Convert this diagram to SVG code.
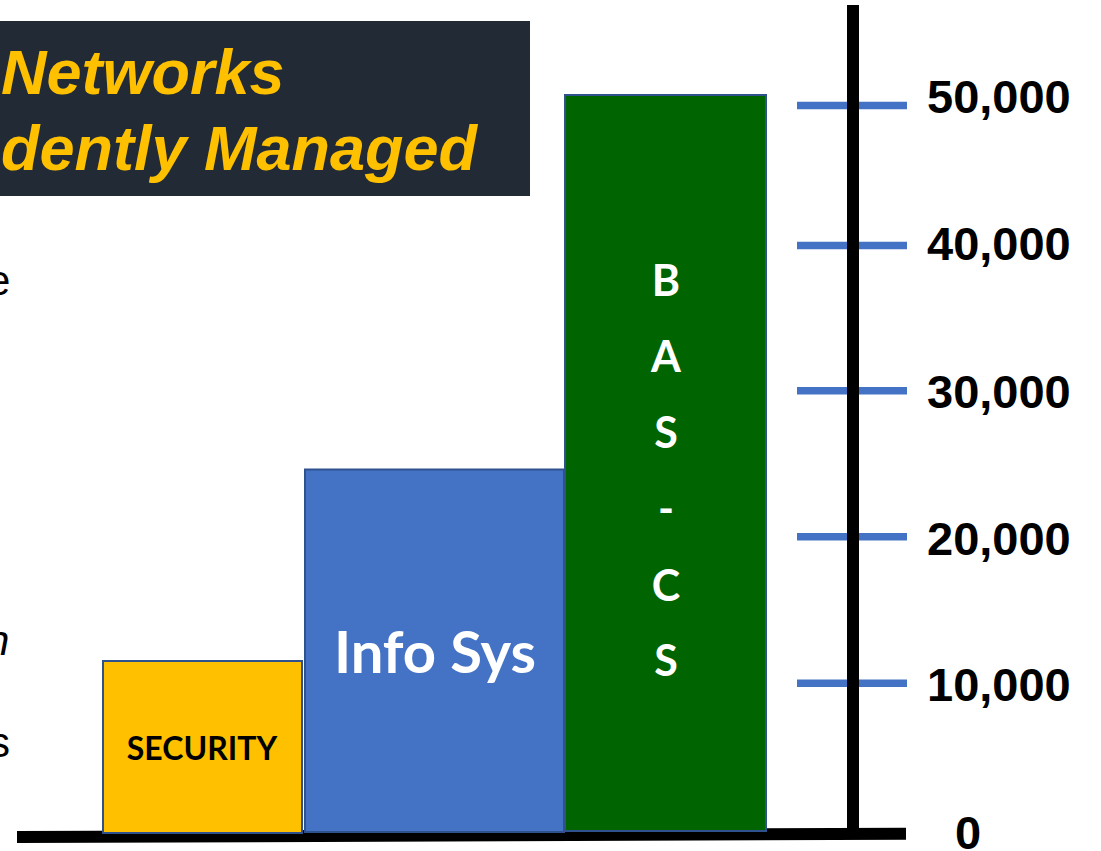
<svg xmlns="http://www.w3.org/2000/svg" width="1101" height="851" viewBox="0 0 1101 851">
  <style>
    .title { font-family: "Liberation Sans", Arial, sans-serif; font-weight: bold; font-style: italic; font-size: 63px; fill: #FFC000; }
    .side { font-family: "Liberation Sans", Arial, sans-serif; font-size: 42px; fill: #000000; }
    .bar { stroke: #2F528F; stroke-width: 2; }
    .barlabel { font-family: Lato, "Open Sans", sans-serif; font-weight: bold; text-anchor: middle; }
    .tick { stroke: #4472C4; stroke-width: 7.5; }
    .axis { stroke: #000000; stroke-width: 12; }
    .value { font-family: "Liberation Sans", Arial, sans-serif; font-weight: bold; font-size: 47px; fill: #000000; }
  </style>

  <rect width="1101" height="851" fill="#FFFFFF"/>

  <!-- heading banner -->
  <g id="heading">
    <rect x="0" y="21" width="530" height="175" fill="#222A35"/>
    <text class="title" x="1" y="94">Networks</text>
    <text class="title" x="1" y="170">dently Managed</text>
  </g>

  <!-- text fragments at the left edge -->
  <g id="side-text">
    <text class="side" x="-13" y="295">e</text>
    <text class="side" x="-14" y="655" font-style="italic">n</text>
    <text class="side" x="-11" y="757">s</text>
  </g>

  <!-- axes and scale -->
  <g id="connectors">
    <line class="axis" x1="17" y1="837" x2="906" y2="833.8"/>
    <line class="tick" x1="797" y1="105.5" x2="907" y2="105.5"/>
    <line class="tick" x1="797" y1="245.5" x2="907" y2="245.5"/>
    <line class="tick" x1="797" y1="390.7" x2="907" y2="390.7"/>
    <line class="tick" x1="797" y1="536.7" x2="907" y2="536.7"/>
    <line class="tick" x1="797" y1="683.3" x2="907" y2="683.3"/>
    <line class="axis" x1="853" y1="5" x2="853" y2="836"/>
  </g>

  <g id="scale-labels">
    <text class="value" x="927" y="113">50,000</text>
    <text class="value" x="927" y="260">40,000</text>
    <text class="value" x="927" y="407.5">30,000</text>
    <text class="value" x="927" y="555">20,000</text>
    <text class="value" x="927" y="701">10,000</text>
    <text class="value" x="955" y="849">0</text>
  </g>

  <!-- bars -->
  <g id="security">
    <rect class="bar" x="103" y="661" width="199" height="172" fill="#FFC000"/>
    <text class="barlabel" x="202" y="760" font-size="32" fill="#000000">SECURITY</text>
  </g>

  <g id="info-sys">
    <rect class="bar" x="305" y="469.5" width="259" height="362.5" fill="#4472C4"/>
    <text class="barlabel" x="435" y="673" font-size="58" fill="#FFFFFF">Info Sys</text>
  </g>

  <g id="bas-cs">
    <rect class="bar" x="565" y="95" width="201" height="736" fill="#006400"/>
    <g class="barlabel" font-size="43" fill="#FFFFFF">
      <text x="666" y="296">B</text>
      <text x="666" y="372">A</text>
      <text x="666" y="448">S</text>
      <text x="666" y="524">-</text>
      <text x="666" y="601">C</text>
      <text x="666" y="676">S</text>
    </g>
  </g>
</svg>
